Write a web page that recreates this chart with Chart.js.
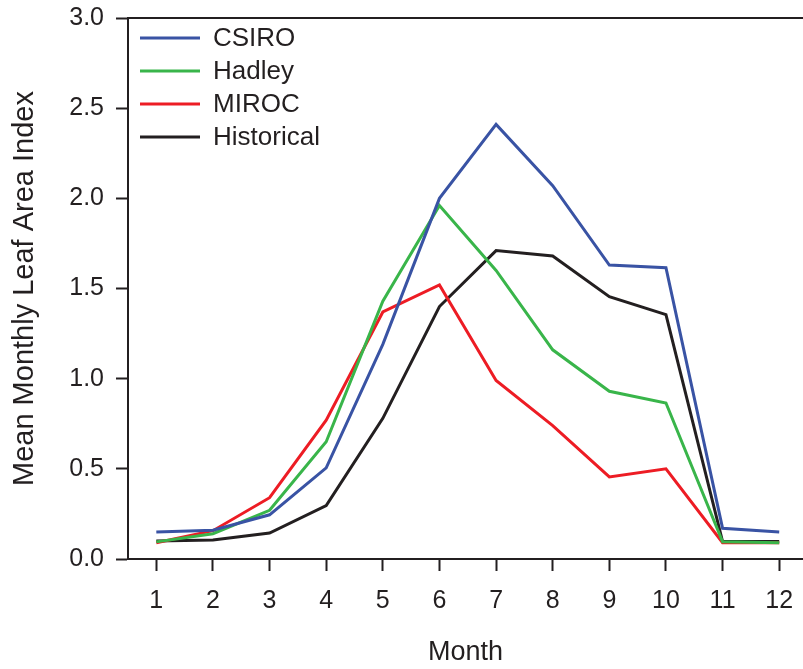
<!DOCTYPE html>
<html>
<head>
<meta charset="utf-8">
<script src="https://cdn.jsdelivr.net/npm/chart.js@4"></script>
<style>
  html, body { margin: 0; padding: 0; background: #fff; }
  #wrap { width: 803px; height: 669px; }
</style>
</head>
<body>
<div id="wrap"><canvas id="laiChart" width="803" height="669"></canvas></div>
<script>
// Data
const months = [1, 2, 3, 4, 5, 6, 7, 8, 9, 10, 11, 12];
const csiro = [0.15, 0.16, 0.245, 0.505, 1.19, 2.0, 2.41, 2.07, 1.63, 1.615, 0.17, 0.15];
const hadley = [0.095, 0.14, 0.27, 0.65, 1.43, 1.96, 1.6, 1.16, 0.93, 0.865, 0.095, 0.09];
const miroc = [0.09, 0.157, 0.34, 0.77, 1.37, 1.52, 0.99, 0.74, 0.455, 0.5, 0.09, 0.09];
const historical = [0.1, 0.105, 0.144, 0.296, 0.78, 1.4, 1.71, 1.68, 1.455, 1.355, 0.097, 0.097];
const yTicks = [0, 0.5, 1.0, 1.5, 2.0, 2.5, 3.0];

const ink = '#231f20';
const fontFamily = '"Liberation Sans", Arial, Helvetica, sans-serif';
Chart.defaults.font.family = fontFamily;
Chart.defaults.color = ink;

// simple legend drawn inside the plot, top-left
const innerLegend = {
    id: 'innerLegend',
    afterDraw(chart) {
        const ctx = chart.ctx;
        const x0 = 140, y0 = 38, step = 33;
        ctx.save();
        ctx.font = '26px ' + fontFamily;
        ctx.textBaseline = 'middle';
        chart.data.datasets.forEach((ds, i) => {
            const y = y0 + i * step;
            ctx.strokeStyle = ds.borderColor;
            ctx.lineWidth = 3;
            ctx.beginPath();
            ctx.moveTo(x0, y);
            ctx.lineTo(x0 + 60, y);
            ctx.stroke();
            ctx.fillStyle = ink;
            ctx.fillText(ds.label, x0 + 73, y + 1);
        });
        ctx.restore();
    }
};

const lineSet = (label, data, color) => ({
    label: label,
    data: data,
    borderColor: color,
    backgroundColor: color,
    borderWidth: 3,
    pointRadius: 0,
    pointHoverRadius: 0,
    tension: 0,
    fill: false
});

// drop the label overflow padding so the plot box sits where the figure has it
const noPad = s => { s.paddingLeft = 0; s.paddingRight = 0; s.paddingTop = 0; s.paddingBottom = 0; };

new Chart(document.getElementById('laiChart').getContext('2d'), {
    type: 'line',
    data: {
        labels: months,
        datasets: [
            lineSet('CSIRO', csiro, '#3953a4'),
            lineSet('Hadley', hadley, '#39b54a'),
            lineSet('MIROC', miroc, '#ed1c24'),
            lineSet('Historical', historical, ink)
        ]
    },
    options: {
        responsive: false,
        animation: false,
        layout: { autoPadding: false, padding: 0 },
        plugins: {
            legend: { display: false },
            tooltip: { enabled: false }
        },
        scales: {
            x: {
                type: 'linear',
                min: 0.5,
                max: 12.42,
                afterBuildTicks: s => { s.ticks = months.map(v => ({ value: v })); },
                afterFit: s => { s.height = 110; noPad(s); },
                grid: { drawOnChartArea: false, tickLength: 12, tickWidth: 2, tickColor: ink },
                border: { color: ink, width: 2 },
                ticks: { font: { size: 25 }, padding: 15, maxRotation: 0, color: ink },
                title: { display: true, text: 'Month', font: { size: 27 }, padding: { top: 0, bottom: 0 }, color: ink }
            },
            x2: {
                type: 'linear',
                position: 'top',
                min: 0,
                max: 1,
                afterFit: s => { s.height = 18; noPad(s); },
                grid: { display: false },
                ticks: { display: false },
                border: { color: ink, width: 2 }
            },
            y: {
                min: 0,
                max: 3,
                afterBuildTicks: s => { s.ticks = yTicks.map(v => ({ value: v })); },
                afterFit: s => { s.width = 128; noPad(s); },
                grid: { drawOnChartArea: false, tickLength: 12, tickWidth: 2, tickColor: ink },
                border: { color: ink, width: 2 },
                ticks: { font: { size: 25 }, padding: 12, color: ink, callback: v => Number(v).toFixed(1) },
                title: { display: true, text: 'Mean Monthly Leaf Area Index', font: { size: 29 }, padding: { top: 8, bottom: 0 }, color: ink }
            }
        }
    },
    plugins: [innerLegend]
});
</script>
</body>
</html>
